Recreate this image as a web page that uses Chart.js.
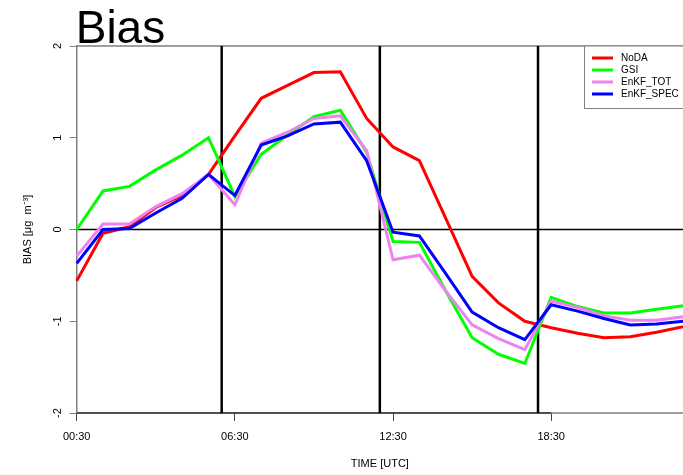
<!DOCTYPE html>
<html>
<head>
<meta charset="utf-8">
<script src="https://cdn.jsdelivr.net/npm/chart.js@4"></script>
<style>
  body { margin: 0; background: #fff; }
  #wrap { width: 683px; height: 475px; overflow: hidden; }
</style>
</head>
<body>
<div id="wrap"><canvas id="bias-chart" width="683" height="475"></canvas></div>
<script>
const timeLabels = ["00:30", "01:30", "02:30", "03:30", "04:30", "05:30", "06:30", "07:30",
                    "08:30", "09:30", "10:30", "11:30", "12:30", "13:30", "14:30", "15:30",
                    "16:30", "17:30", "18:30", "19:30", "20:30", "21:30", "22:30", "23:30"];

const noda     = [-0.56, -0.04, 0.03, 0.24, 0.37, 0.60, 1.02, 1.43, 1.57, 1.71, 1.72, 1.21,
                   0.90, 0.75, 0.12, -0.51, -0.80, -1.00, -1.07, -1.13, -1.18, -1.17, -1.12, -1.06];
const gsi      = [0.00, 0.42, 0.47, 0.65, 0.81, 1.00, 0.36, 0.82, 1.03, 1.23, 1.30, 0.84,
                  -0.13, -0.14, -0.67, -1.18, -1.36, -1.46, -0.74, -0.84, -0.91, -0.91, -0.87, -0.83];
const enkfTot  = [-0.29, 0.06, 0.06, 0.25, 0.39, 0.60, 0.27, 0.94, 1.06, 1.21, 1.24, 0.86,
                  -0.33, -0.28, -0.67, -1.04, -1.19, -1.31, -0.78, -0.85, -0.94, -0.99, -0.99, -0.95];
const enkfSpec = [-0.37, 0.00, 0.01, 0.18, 0.34, 0.60, 0.37, 0.92, 1.02, 1.15, 1.17, 0.75,
                  -0.03, -0.07, -0.48, -0.90, -1.07, -1.20, -0.82, -0.89, -0.97, -1.04, -1.03, -1.00];

// analysis times (hours UTC) marked with vertical lines
const cycleHours = [6, 12, 18];

const FONT = "'Liberation Sans', Arial, sans-serif";
const BOX_GREY = "#808080";

function series(label, data, color, order) {
    return {
        label: label,
        data: data,
        borderColor: color,
        backgroundColor: color,
        borderWidth: 3,
        pointRadius: 0,
        tension: 0,
        fill: false,
        order: order
    };
}

// frame, zero line and cycle markers under the curves
const framePlugin = {
    id: "frame",
    beforeDatasetsDraw(chart) {
        const { ctx, chartArea: a, scales: { x, y } } = chart;
        ctx.save();

        ctx.strokeStyle = BOX_GREY;
        ctx.lineWidth = 1.5;
        ctx.beginPath();
        ctx.moveTo(a.left, a.top);
        ctx.lineTo(a.right + 5, a.top);
        ctx.moveTo(a.left, a.bottom);
        ctx.lineTo(a.right + 5, a.bottom);
        ctx.stroke();

        // bottom axis line spans first to last tick
        ctx.strokeStyle = "#000";
        ctx.lineWidth = 1.2;
        ctx.beginPath();
        ctx.moveTo(x.getPixelForValue(0), a.bottom);
        ctx.lineTo(x.getPixelForValue(18), a.bottom);
        ctx.stroke();

        ctx.lineWidth = 1.5;
        ctx.beginPath();
        const y0 = y.getPixelForValue(0);
        ctx.moveTo(a.left, y0);
        ctx.lineTo(a.right, y0);
        ctx.stroke();

        ctx.lineWidth = 2.5;
        ctx.beginPath();
        cycleHours.forEach(h => {
            const px = x.getPixelForValue(h - 0.5);
            ctx.moveTo(px, a.top);
            ctx.lineTo(px, a.bottom);
        });
        ctx.stroke();
        ctx.restore();
    }
};

// title and boxed legend in the top right corner
const overlayPlugin = {
    id: "overlay",
    afterDraw(chart) {
        const { ctx, chartArea: a } = chart;
        ctx.save();

        ctx.fillStyle = "#000";
        ctx.font = "46px " + FONT;
        ctx.textBaseline = "alphabetic";
        ctx.textAlign = "left";
        ctx.fillText("Bias", a.left - 1, 43);

        const bx = 584.5, by = a.top, bw = 120, bh = 62.5;
        ctx.fillStyle = "#fff";
        ctx.fillRect(bx, by, bw, bh);
        ctx.strokeStyle = BOX_GREY;
        ctx.lineWidth = 1;
        ctx.strokeRect(bx, by, bw, bh);

        ctx.font = "10px " + FONT;
        ctx.textBaseline = "middle";
        chart.data.datasets.forEach((ds, i) => {
            const ly = by + 12 + i * 12;
            ctx.strokeStyle = ds.borderColor;
            ctx.lineWidth = 3;
            ctx.beginPath();
            ctx.moveTo(592, ly);
            ctx.lineTo(613, ly);
            ctx.stroke();
            ctx.fillStyle = "#000";
            ctx.fillText(ds.label, 621, ly);
        });
        ctx.restore();
    }
};

const ctx = document.getElementById("bias-chart").getContext("2d");

new Chart(ctx, {
    type: "line",
    data: {
        labels: timeLabels,
        datasets: [
            series("NoDA", noda, "#FF0000", 4),
            series("GSI", gsi, "#00FF00", 3),
            series("EnKF_TOT", enkfTot, "#EE82EE", 2),
            series("EnKF_SPEC", enkfSpec, "#0000FF", 1)
        ]
    },
    options: {
        responsive: false,
        devicePixelRatio: 1,
        animation: false,
        layout: { padding: { top: 46, left: 0, right: 0, bottom: 0 } },
        plugins: {
            legend: { display: false },
            tooltip: { enabled: false }
        },
        scales: {
            x: {
                type: "category",
                offset: false,
                afterFit: s => { s.height = 62; },
                afterBuildTicks: s => { s.ticks = s.ticks.filter(t => t.value % 6 === 0); },
                border: { display: false },
                grid: { drawOnChartArea: false, drawTicks: true, tickLength: 8, color: "#444" },
                ticks: {
                    autoSkip: false,
                    maxRotation: 0,
                    padding: 9,
                    color: "#000",
                    font: { family: FONT, size: 11 },
                    callback: function (v) { return this.getLabelForValue(v); }
                },
                title: {
                    display: true,
                    text: "TIME [UTC]",
                    color: "#000",
                    font: { family: FONT, size: 11 },
                    padding: { top: 0, bottom: 4 }
                }
            },
            y: {
                min: -2,
                max: 2,
                afterFit: s => { s.width = 76.7; },
                border: { color: BOX_GREY, width: 1.5 },
                grid: { drawOnChartArea: false, drawTicks: true, tickLength: 7, color: BOX_GREY },
                ticks: {
                    stepSize: 1,
                    minRotation: 90,
                    maxRotation: 90,
                    crossAlign: "center",
                    padding: 7,
                    color: "#000",
                    font: { family: FONT, size: 11 }
                },
                title: {
                    display: true,
                    text: "BIAS [μg  m⁻³]",
                    color: "#000",
                    font: { family: FONT, size: 11 },
                    padding: { top: 21, bottom: 0 }
                }
            }
        }
    },
    plugins: [framePlugin, overlayPlugin]
});
</script>
</body>
</html>
